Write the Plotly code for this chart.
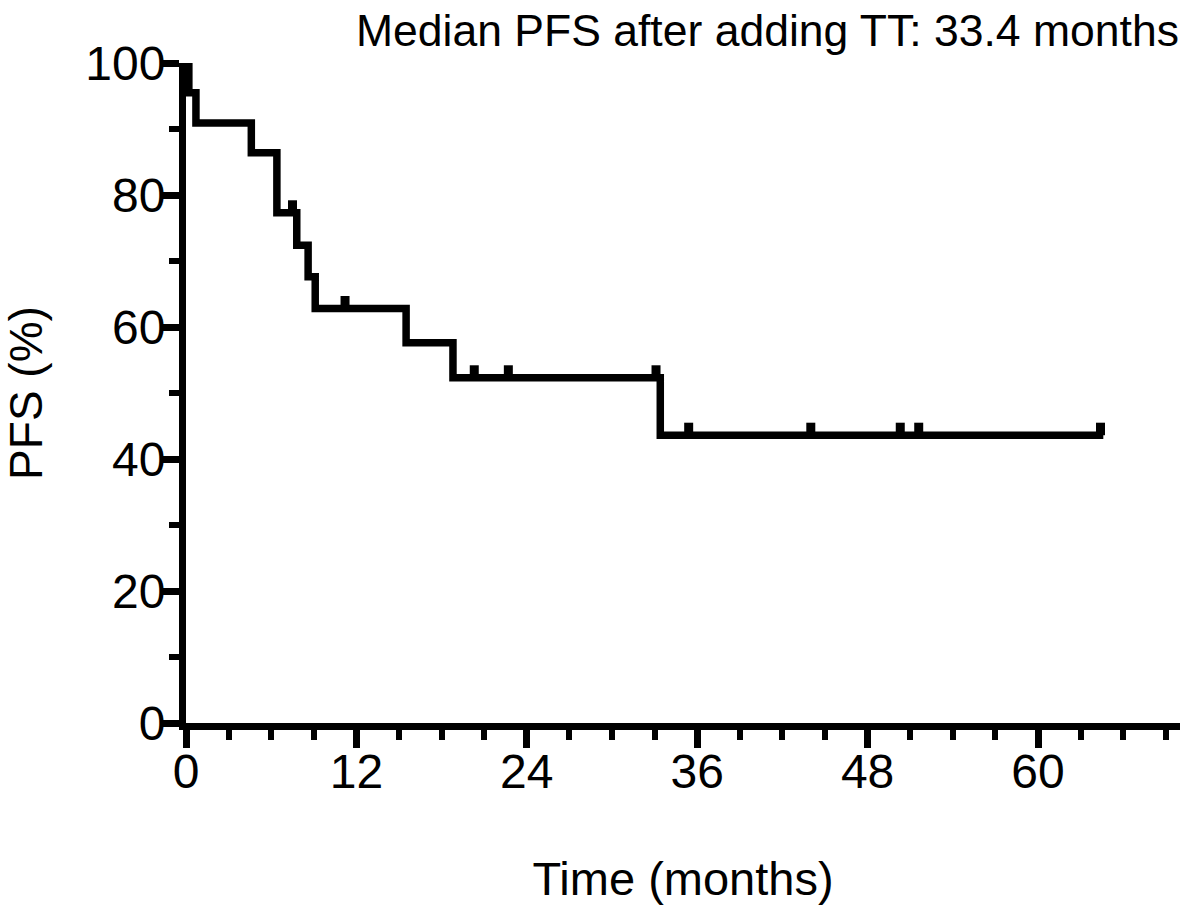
import plotly.graph_objects as go

# Kaplan-Meier step curve (months, % progression-free)
step_times = [0, 0.2, 0.7, 4.6, 6.4, 7.8, 8.6, 9.1, 15.5, 18.8, 33.4, 64.6]
step_surv = [100, 95.5, 90.9, 86.4, 77.3, 72.4, 67.6, 62.8, 57.6, 52.3, 43.6, 43.6]

# Censored observations
censor_times = [7.5, 11.2, 20.3, 22.7, 33.1, 35.4, 44.0, 50.3, 51.6, 64.4]
censor_surv = [77.3, 62.8, 52.3, 52.3, 52.3, 43.6, 43.6, 43.6, 43.6, 43.6]

x_ticks = [0, 12, 24, 36, 48, 60]
y_ticks = [0, 20, 40, 60, 80, 100]

title_text = "Median PFS after adding TT: 33.4 months"
x_title = "Time (months)"
y_title = "PFS (%)"

FONT = "Liberation Sans, Arial, sans-serif"
mark_h = 1.9

fig = go.Figure()
fig.add_trace(go.Scatter(
    x=step_times, y=step_surv, mode="lines",
    line=dict(shape="hv", color="black", width=7.5),
    cliponaxis=False, showlegend=False, hoverinfo="skip"))
fig.add_trace(go.Scatter(
    x=censor_times, y=censor_surv, mode="markers",
    marker=dict(size=1, color="black"),
    error_y=dict(type="data", symmetric=False,
                 array=[mark_h] * len(censor_times),
                 arrayminus=[0] * len(censor_times),
                 thickness=9, width=0, color="black"),
    cliponaxis=False, showlegend=False, hoverinfo="skip"))

fig.update_layout(
    width=1181, height=913,
    margin=dict(l=186, r=1, t=63, b=190),
    paper_bgcolor="white", plot_bgcolor="white",
    font=dict(family=FONT, color="black", size=48),
    annotations=[dict(text=title_text, xref="paper", yref="paper",
                      x=1, y=1, xanchor="right", yanchor="bottom",
                      yshift=7, showarrow=False, borderpad=0,
                      font=dict(family=FONT, size=44.5, color="black"))],
)
fig.update_xaxes(
    range=[0, 70], tickvals=x_ticks, ticktext=[str(v) for v in x_ticks],
    showline=True, linecolor="black", linewidth=7,
    ticks="outside", ticklen=18, tickwidth=7, tickcolor="black",
    minor=dict(dtick=3, tick0=0, ticks="outside", ticklen=10, tickwidth=6, tickcolor="black"),
    showgrid=False, zeroline=False, automargin=False,
    tickfont=dict(size=48), ticklabelstandoff=-18,
    title=dict(text=x_title, font=dict(size=47), standoff=68),
)
fig.update_yaxes(
    range=[0, 100], tickvals=y_ticks, ticktext=[str(v) for v in y_ticks],
    showline=True, linecolor="black", linewidth=7,
    ticks="outside", ticklen=18, tickwidth=7, tickcolor="black",
    minor=dict(dtick=10, tick0=0, ticks="outside", ticklen=10, tickwidth=6, tickcolor="black"),
    showgrid=False, zeroline=False, automargin=False,
    tickfont=dict(size=48), ticklabelstandoff=-14,
    title=dict(text=y_title, font=dict(size=46), standoff=37),
)

fig.write_html("out.html", config={"displayModeBar": False},
               post_script="document.body.style.margin='0';")
